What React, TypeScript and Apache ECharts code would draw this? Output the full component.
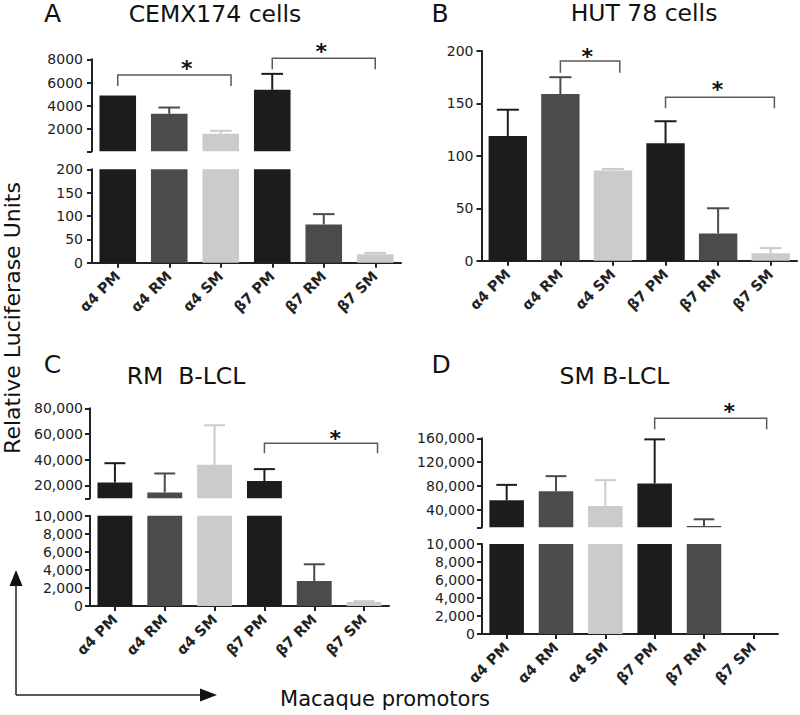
import React, { useEffect, useRef } from 'react';
import * as echarts from 'echarts';

// ---------------- data ----------------
const categories = ['α4 PM', 'α4 RM', 'α4 SM', 'β7 PM', 'β7 RM', 'β7 SM'];
const barColors = ['#1c1c1c', '#4b4b4b', '#cbcbcb', '#1c1c1c', '#4b4b4b', '#cbcbcb'];

const cemxMean = [4900, 3320, 1600, 5380, 82, 18];
const cemxErr = [0, 540, 260, 1370, 22, 3];
const hutMean = [119, 159, 86, 112, 26, 7];
const hutErr = [25, 16, 1.5, 21, 24, 5];
const rmMean = [22300, 14600, 36000, 23400, 2770, 450];
const rmErr = [15000, 14700, 30800, 9300, 1850, 80];
const smMean = [55700, 70900, 46100, 83900, 12000, 0];
const smErr = [25800, 25300, 43400, 74300, 11500, 0];

// axis ranges and tick labels
const cemxUpperRange = [100, 8000];
const cemxUpperTicks = [2000, 4000, 6000, 8000];
const cemxLowerRange = [0, 200];
const cemxLowerTicks = [0, 50, 100, 150, 200];
const hutRange = [0, 200];
const hutTicks = [0, 50, 100, 150, 200];
const rmUpperRange = [10000, 80000];
const rmUpperTicks = [20000, 40000, 60000, 80000];
const rmLowerRange = [0, 10000];
const rmLowerTicks = [0, 2000, 4000, 6000, 8000, 10000];
const smUpperRange = [10000, 160000];
const smUpperTicks = [40000, 80000, 120000, 160000];
const smLowerRange = [0, 10000];
const smLowerTicks = [0, 2000, 4000, 6000, 8000, 10000];

// significance brackets: [fromCat, toCat, lineValue, legValue, starCat, starValue]
const cemxBrackets = [
  [0, 2.2, 6650, 5710, 1.34, 7510],
  [3, 5.0, 8090, 7140, 3.95, 8970],
];
const hutBrackets = [
  [1, 2.13, 190.5, 179.3, 1.51, 198],
  [3, 5.07, 155.8, 145.3, 3.99, 166],
];
const rmBrackets = [[3, 5.27, 52800, 45000, 4.42, 59200]];
const smBrackets = [[3, 5.27, 193700, 175200, 4.51, 210600]];

const panelTitles = ['CEMX174 cells', 'HUT 78 cells', 'RM  B-LCL', 'SM B-LCL'];
const panelLetters = ['A', 'B', 'C', 'D'];
const yTitle = 'Relative Luciferase Units';
const xTitle = 'Macaque promotors';

// ---------------- styling / layout ----------------
const FONT = '"DejaVu Sans", sans-serif';
const INK = '#222222';

type Role = 'upper' | 'lower' | 'single';
interface SegSpec { top: number; height: number; range: number[]; labels: number[]; role: Role }
interface PanelSpec {
  left: number; width: number; segs: SegSpec[]; means: number[]; errs: number[];
  breakAt: number; brackets: number[][]; commas: boolean; labelMargin: number; barWidth: string;
}

function fmt(v: number, commas: boolean) {
  return commas ? String(v).replace(/\B(?=(\d{3})+(?!\d))/g, ',') : String(v);
}

function buildOption() {
  const panels: PanelSpec[] = [
    {
      left: 92, width: 309, means: cemxMean, errs: cemxErr, breakAt: cemxLowerRange[1],
      brackets: cemxBrackets, commas: false, labelMargin: 9, barWidth: '71%',
      segs: [
        { top: 59.3, height: 92, range: cemxUpperRange, labels: cemxUpperTicks, role: 'upper' },
        { top: 169.3, height: 93.4, range: cemxLowerRange, labels: cemxLowerTicks, role: 'lower' },
      ],
    },
    {
      left: 481.5, width: 315.5, means: hutMean, errs: hutErr, breakAt: Infinity,
      brackets: hutBrackets, commas: false, labelMargin: 8, barWidth: '73%',
      segs: [{ top: 51, height: 209.7, range: hutRange, labels: hutTicks, role: 'single' }],
    },
    {
      left: 90, width: 299, means: rmMean, errs: rmErr, breakAt: rmLowerRange[1],
      brackets: rmBrackets, commas: true, labelMargin: 7, barWidth: '70%',
      segs: [
        { top: 408.3, height: 90, range: rmUpperRange, labels: rmUpperTicks, role: 'upper' },
        { top: 515.7, height: 90.3, range: rmLowerRange, labels: rmLowerTicks, role: 'lower' },
      ],
    },
    {
      left: 482, width: 296, means: smMean, errs: smErr, breakAt: smLowerRange[1],
      brackets: smBrackets, commas: true, labelMargin: 7, barWidth: '70%',
      segs: [
        { top: 438.3, height: 89, range: smUpperRange, labels: smUpperTicks, role: 'upper' },
        { top: 544, height: 90, range: smLowerRange, labels: smLowerTicks, role: 'lower' },
      ],
    },
  ];

  const grid: any[] = [];
  const xAxis: any[] = [];
  const yAxis: any[] = [];
  const series: any[] = [];

  panels.forEach((p) => {
    p.segs.forEach((s, si) => {
      const gi = grid.length;
      grid.push({ left: p.left, width: p.width, top: s.top, height: s.height, containLabel: false, outerBoundsMode: 'none' });
      const showX = s.role !== 'upper';
      xAxis.push({
        type: 'category', gridIndex: gi, data: categories, show: showX,
        axisLine: { show: true, onZero: false, lineStyle: { color: INK, width: 2 } },
        axisTick: { show: true, alignWithLabel: true, length: 5, lineStyle: { color: INK, width: 2 } },
        axisLabel: {
          show: true, interval: 0, rotate: 45, margin: 11, fontSize: 14.5, fontWeight: 'bold',
          fontFamily: FONT, color: INK,
        },
        splitLine: { show: false },
      });
      const tickVals = s.role === 'upper' ? [s.range[0], ...s.labels] : s.labels;
      yAxis.push({
        type: 'value', gridIndex: gi, min: s.range[0], max: s.range[1],
        axisLine: { show: true, lineStyle: { color: INK, width: 2 } },
        axisTick: { show: true, length: 5, customValues: tickVals, lineStyle: { color: INK, width: 2 } },
        axisLabel: {
          show: true, customValues: s.labels, margin: p.labelMargin, fontSize: 14, fontFamily: FONT, color: INK,
          formatter: (v: number) => fmt(v, p.commas),
        },
        splitLine: { show: false },
      });

      const barData = p.means.map((m, i) => {
        let val: any = m;
        if (s.role === 'upper') val = m > p.breakAt ? m : '-';
        else if (s.role === 'lower') val = Math.min(m, s.range[1]);
        return { value: val, itemStyle: { color: barColors[i] } };
      });
      series.push({
        type: 'bar', xAxisIndex: gi, yAxisIndex: gi, barWidth: p.barWidth, data: barData, silent: true, clip: true,
      });

      const role = s.role;
      const segMax = s.range[1];
      series.push({
        type: 'custom', xAxisIndex: gi, yAxisIndex: gi, clip: false, silent: true, z: 5,
        data: p.means.map((m, i) => [i, m, m + p.errs[i]]),
        renderItem: (params: any, api: any) => {
          const i = api.value(0);
          const m = api.value(1);
          const t = api.value(2);
          if (!(t > m)) return null;
          if (role === 'upper' && !(m > p.breakAt)) return null;
          if (role === 'lower' && !(t <= segMax)) return null;
          const a = api.coord([i, m]);
          const b = api.coord([i, t]);
          const band = api.coord([1, m])[0] - api.coord([0, m])[0];
          const cap = band * 0.42;
          const col = barColors[i];
          return {
            type: 'group',
            children: [
              { type: 'line', shape: { x1: a[0], y1: a[1], x2: b[0], y2: b[1] }, style: { stroke: col, lineWidth: 2 } },
              { type: 'line', shape: { x1: b[0] - cap / 2, y1: b[1], x2: b[0] + cap / 2, y2: b[1] }, style: { stroke: col, lineWidth: 2 } },
            ],
          };
        },
      });

      if (si === 0) {
        series.push({
          type: 'custom', xAxisIndex: gi, yAxisIndex: gi, clip: false, silent: true, z: 6,
          data: p.brackets,
          renderItem: (params: any, api: any) => {
            const x1 = api.value(0), x2 = api.value(1), yl = api.value(2), yg = api.value(3);
            const sx = api.value(4), sy = api.value(5);
            const c0 = api.coord([0, yl]);
            const c1 = api.coord([1, yl]);
            const bw = c1[0] - c0[0];
            const px = (c: number) => c0[0] + c * bw;
            const py = (v: number) => api.coord([0, v])[1];
            return {
              type: 'group',
              children: [
                {
                  type: 'polyline',
                  shape: { points: [[px(x1), py(yg)], [px(x1), py(yl)], [px(x2), py(yl)], [px(x2), py(yg)]] },
                  style: { stroke: '#5a5a5a', lineWidth: 1.5, fill: null },
                },
                {
                  type: 'text', x: px(sx), y: py(sy) + 3,
                  style: { text: '*', fontSize: 22, fontWeight: 'bold', fontFamily: FONT, fill: '#111', align: 'center', verticalAlign: 'middle' },
                },
              ],
            };
          },
        });
      }
    });
  });

  const titleStyle = (text: string, size: number) => ({
    text, fontSize: size, fontFamily: FONT, fill: '#111', align: 'center', verticalAlign: 'middle',
  });
  const letterPos = [[52.5, 13.5], [440, 13.5], [52.5, 364], [441, 364]];
  const titlePos = [[215, 13.5], [644, 13], [186, 376], [614.5, 376]];

  const graphic: any[] = [];
  panelLetters.forEach((l, i) => {
    graphic.push({ type: 'text', x: letterPos[i][0], y: letterPos[i][1], style: titleStyle(l, 25), silent: true });
    graphic.push({ type: 'text', x: titlePos[i][0], y: titlePos[i][1], style: titleStyle(panelTitles[i], 23.5), silent: true });
  });
  graphic.push({ type: 'text', x: 12, y: 318, rotation: Math.PI / 2, style: titleStyle(yTitle, 22), silent: true });
  graphic.push({ type: 'text', x: 385, y: 699, style: titleStyle(xTitle, 21), silent: true });
  // axis arrows
  graphic.push({ type: 'line', shape: { x1: 16, y1: 695, x2: 16, y2: 584 }, style: { stroke: INK, lineWidth: 1.5 }, silent: true });
  graphic.push({ type: 'polygon', shape: { points: [[16, 570], [9.5, 586], [22.5, 586]] }, style: { fill: '#111' }, silent: true });
  graphic.push({ type: 'line', shape: { x1: 16, y1: 695, x2: 203, y2: 695 }, style: { stroke: INK, lineWidth: 1.5 }, silent: true });
  graphic.push({ type: 'polygon', shape: { points: [[217, 695], [200, 688.5], [200, 701.5]] }, style: { fill: '#111' }, silent: true });

  return {
    animation: false,
    backgroundColor: '#ffffff',
    grid, xAxis, yAxis, series, graphic,
  };
}

export default function App() {
  const ref = useRef<HTMLDivElement>(null);
  useEffect(() => {
    document.body.style.margin = '0';
    if (!ref.current) return;
    const chart = echarts.init(ref.current, undefined, { renderer: 'svg' });
    chart.setOption(buildOption() as any);
    return () => chart.dispose();
  }, []);
  return <div ref={ref} style={{ width: 800, height: 715 }} />;
}
